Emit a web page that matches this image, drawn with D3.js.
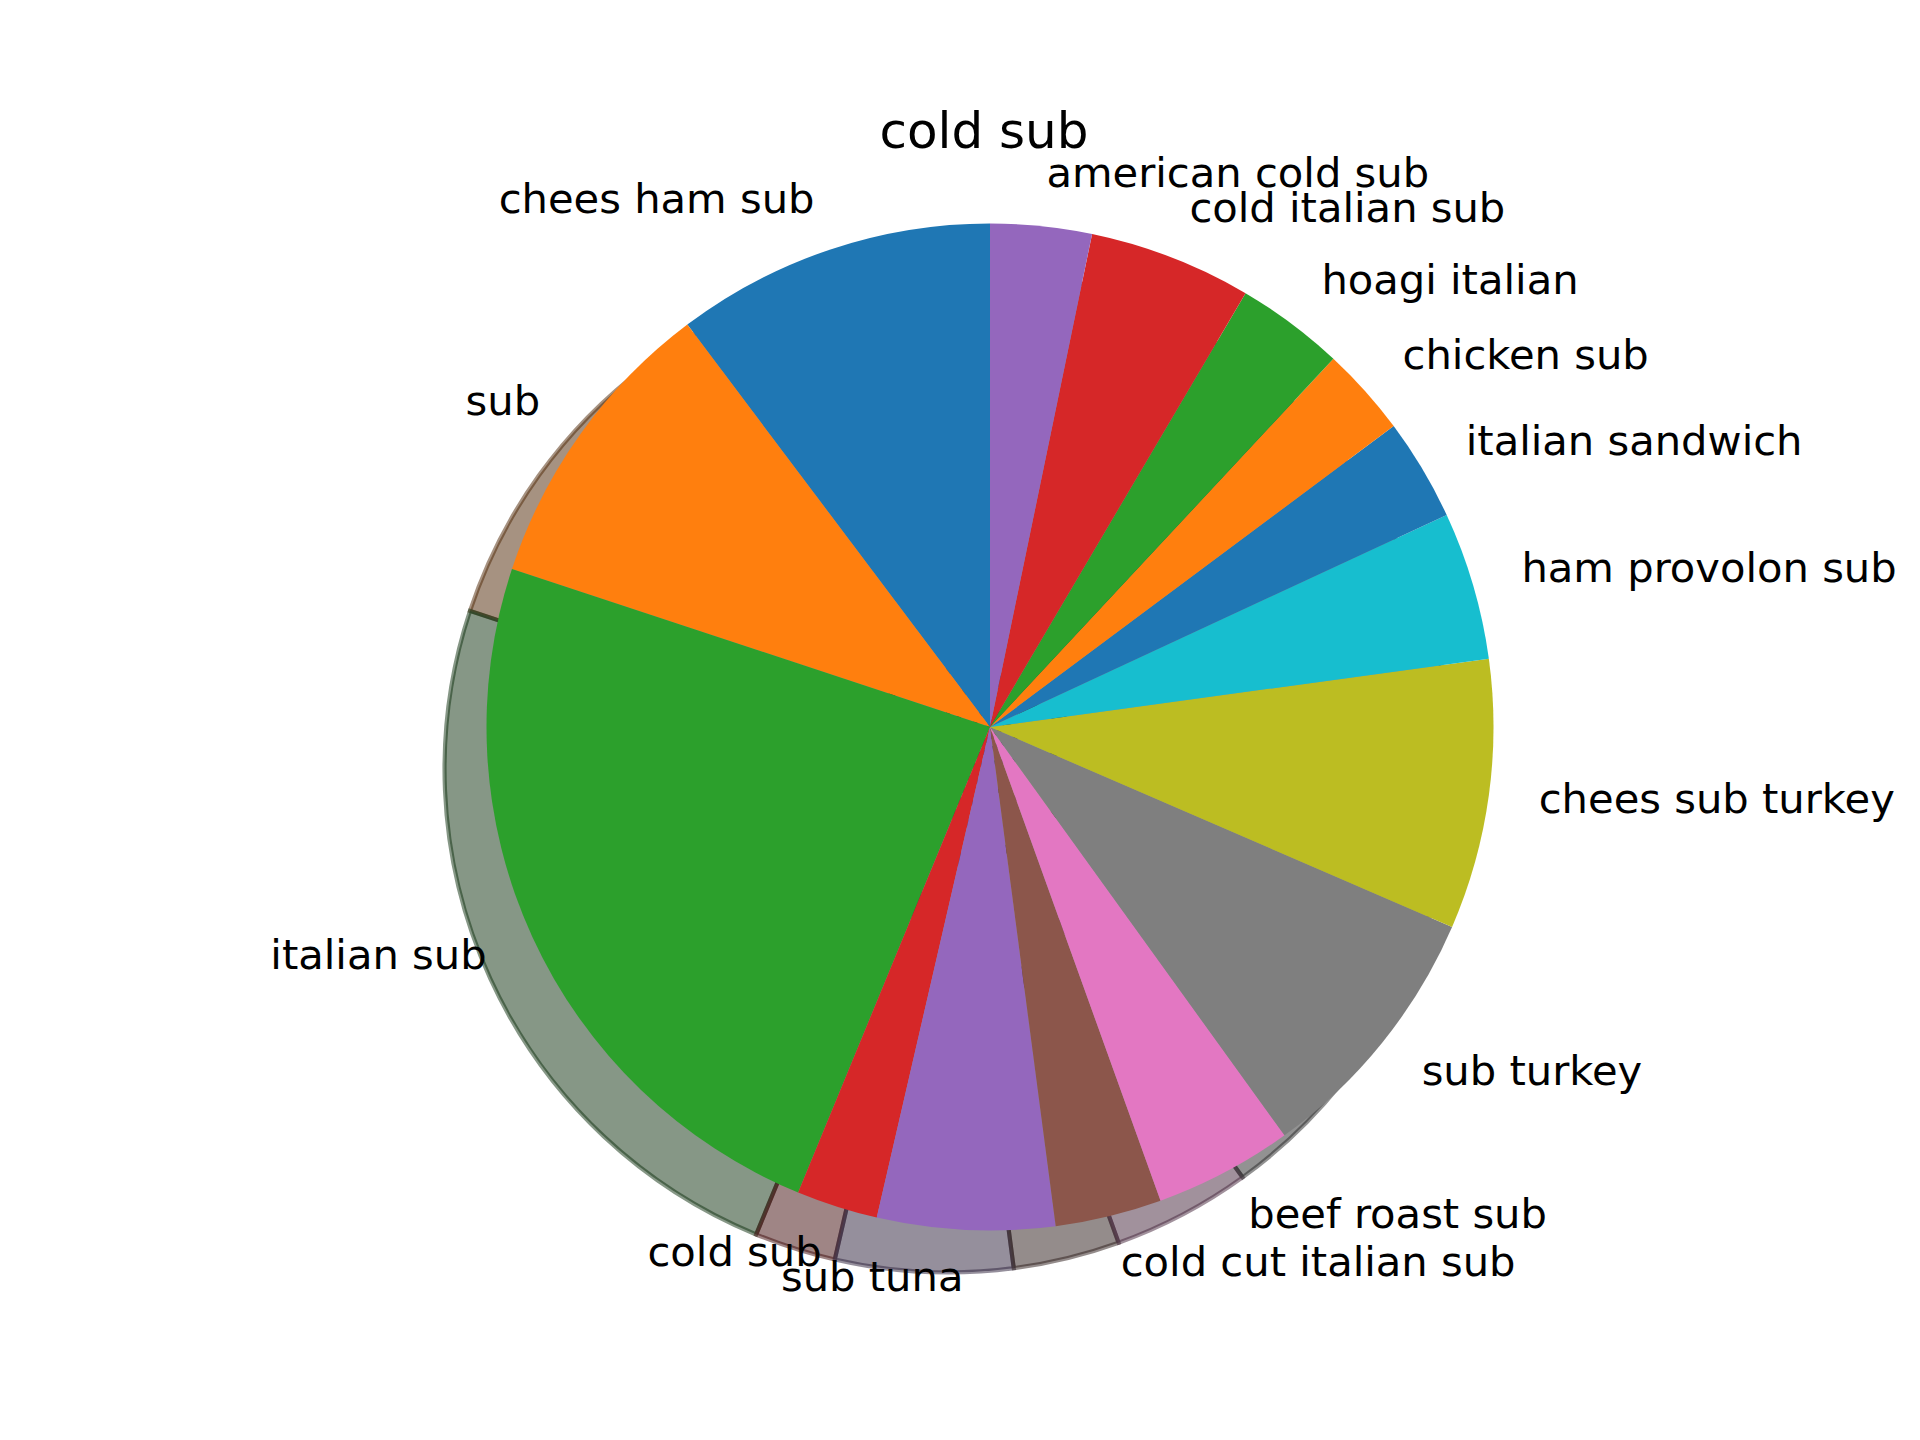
<!DOCTYPE html>
<html>
<head>
<meta charset="utf-8">
<script src="https://cdn.jsdelivr.net/npm/d3@7"></script>
<style>
  html, body { margin: 0; padding: 0; background: #ffffff; }
  svg { display: block; }
  text { font-family: "DejaVu Sans", sans-serif; fill: #000; }
</style>
</head>
<body>
<div id="chart"></div>
<script>
// ---- data (slice sizes, in degrees of the full circle) ----
const categories = [
  "chees ham sub", "sub", "italian sub", "cold sub", "sub tuna",
  "cold cut italian sub", "beef roast sub", "sub turkey", "chees sub turkey",
  "ham provolon sub", "italian sandwich", "chicken sub", "hoagi italian",
  "cold italian sub", "american cold sub"
];
const values = [36.95, 34.75, 85.9, 9.4, 20.5, 12.3, 16.0, 30.8, 31.2, 17.1, 11.8, 10.3, 12.5, 18.8, 11.7];
const titleText = "cold sub";
const palette = ["#1f77b4", "#ff7f0e", "#2ca02c", "#d62728", "#9467bd",
                 "#8c564b", "#e377c2", "#7f7f7f", "#bcbd22", "#17becf"];

// ---- layout ----
const W = 1920, H = 1440;
const cx = 990, cy = 727, R = 503.5;
const shadowOff = R * 0.02 * 300 / 72;
const labelFont = 41.67, titleFont = 50;

const svg = d3.select("#chart").append("svg")
  .attr("width", W).attr("height", H)
  .attr("viewBox", `0 0 ${W} ${H}`);
svg.append("rect").attr("width", W).attr("height", H).attr("fill", "#fff");

const data = categories.map((c, i) => ({ label: c, value: values[i], idx: i }));
const pie = d3.pie().sort(null).value(d => d.value).startAngle(0).endAngle(-2 * Math.PI);
const arcs = pie(data);
const arc = d3.arc().innerRadius(0).outerRadius(R);
const color = i => palette[i % palette.length];
const shade = c => { const r = d3.rgb(c); return d3.rgb(r.r * 0.3, r.g * 0.3, r.b * 0.3).formatHex(); };

const g = svg.append("g").attr("transform", `translate(${cx},${cy})`);

// shadows (below all wedges)
g.append("g").attr("transform", `translate(${-shadowOff},${shadowOff})`)
  .selectAll("path").data(arcs).join("path")
  .attr("d", arc)
  .attr("fill", d => shade(color(d.data.idx)))
  .attr("fill-opacity", 0.5)
  .attr("stroke", d => shade(color(d.data.idx)))
  .attr("stroke-opacity", 0.5)
  .attr("stroke-width", 4.17)
  .attr("stroke-linejoin", "miter");

// wedges
g.append("g").selectAll("path").data(arcs).join("path")
  .attr("d", arc)
  .attr("fill", d => color(d.data.idx));

// labels
g.append("g").selectAll("text").data(arcs).join("text")
  .each(function(d) {
    const mid = (d.startAngle + d.endAngle) / 2;
    const x = Math.sin(mid) * R * 1.1;
    const y = -Math.cos(mid) * R * 1.1;
    d3.select(this)
      .attr("x", x).attr("y", y + labelFont * 0.27)
      .attr("text-anchor", x > 0 ? "start" : "end");
  })
  .attr("font-size", labelFont)
  .text(d => d.data.label);

// title
svg.append("text")
  .attr("x", 984).attr("y", 147.8)
  .attr("text-anchor", "middle")
  .attr("font-size", titleFont)
  .text(titleText);
</script>
</body>
</html>
